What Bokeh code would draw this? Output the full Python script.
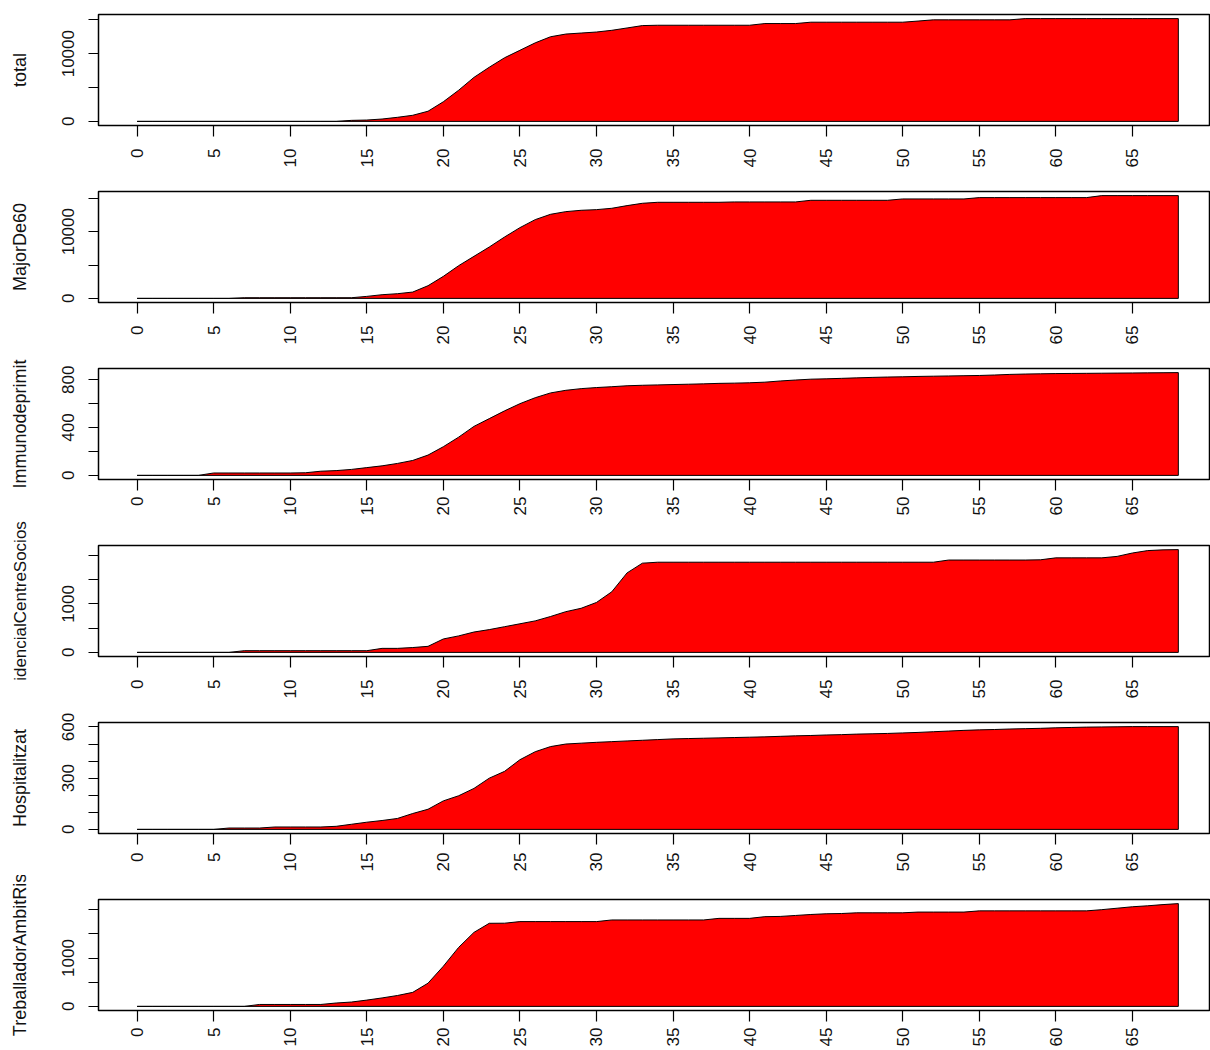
import math
from bokeh.plotting import figure
from bokeh.layouts import column
from bokeh.models import Range1d, FixedTicker, ColumnDataSource
from bokeh.embed import file_html
from bokeh.resources import INLINE

days = list(range(69))

total = [0, 0, 0, 0, 0, 0, 0, 0, 0, 0,
         0, 0, 0, 0, 150, 200, 350, 600, 900, 1500,
         2900, 4600, 6500, 8000, 9400, 10500, 11600, 12500, 12900, 13050,
         13200, 13450, 13800, 14150, 14200, 14200, 14200, 14200, 14200, 14200,
         14200, 14450, 14450, 14450, 14650, 14650, 14650, 14650, 14650, 14650,
         14650, 14820, 15000, 15000, 15000, 15000, 15000, 15000, 15180, 15180,
         15180, 15180, 15180, 15180, 15180, 15180, 15180, 15180, 15180]

major_de_60 = [0, 0, 0, 0, 0, 0, 0, 100, 100, 100,
               100, 100, 100, 100, 100, 300, 550, 700, 950, 1900,
               3300, 4900, 6300, 7700, 9200, 10600, 11800, 12600, 13000, 13200,
               13300, 13500, 13900, 14250, 14400, 14400, 14400, 14400, 14400, 14450,
               14450, 14450, 14450, 14450, 14700, 14700, 14700, 14700, 14700, 14700,
               14900, 14900, 14900, 14900, 14900, 15100, 15100, 15100, 15100, 15100,
               15100, 15100, 15100, 15400, 15400, 15400, 15400, 15400, 15400]

immunodeprimit = [0, 0, 0, 0, 0, 20, 20, 20, 20, 20,
                  20, 22, 35, 40, 50, 65, 80, 100, 125, 170,
                  240, 320, 410, 475, 540, 600, 650, 690, 712, 726,
                  735, 742, 750, 754, 757, 760, 763, 766, 770, 772,
                  775, 780, 790, 798, 805, 808, 812, 816, 820, 823,
                  825, 828, 830, 832, 834, 836, 840, 845, 848, 850,
                  852, 853, 854, 855, 856, 857, 858, 859, 860]

residencial = [0, 0, 0, 0, 0, 0, 0, 35, 35, 35,
               35, 35, 35, 35, 35, 35, 83, 83, 100, 125,
               277, 340, 420, 470, 530, 590, 650, 740, 840, 910,
               1030, 1250, 1640, 1840, 1860, 1860, 1860, 1860, 1860, 1860,
               1860, 1860, 1860, 1860, 1860, 1860, 1860, 1860, 1860, 1860,
               1860, 1860, 1860, 1905, 1905, 1905, 1905, 1905, 1905, 1910,
               1950, 1950, 1950, 1950, 1980, 2050, 2100, 2115, 2120]

hospitalitzat = [0, 0, 0, 0, 0, 0, 8, 8, 8, 14,
                 14, 14, 14, 18, 30, 42, 52, 64, 93, 118,
                 167, 197, 240, 300, 340, 408, 455, 485, 500, 505,
                 510, 514, 518, 522, 526, 530, 532, 534, 536, 538,
                 540, 542, 545, 548, 550, 553, 555, 558, 560, 562,
                 565, 568, 572, 576, 580, 583, 585, 588, 590, 592,
                 595, 597, 599, 600, 601, 602, 602, 602, 602]

treballador = [0, 0, 0, 0, 0, 0, 0, 0, 40, 40,
               40, 40, 40, 70, 90, 130, 175, 225, 290, 480,
               830, 1220, 1530, 1718, 1720, 1753, 1753, 1753, 1753, 1753,
               1753, 1787, 1787, 1787, 1787, 1787, 1787, 1787, 1820, 1820,
               1820, 1855, 1860, 1880, 1900, 1915, 1920, 1935, 1935, 1935,
               1935, 1950, 1950, 1950, 1950, 1975, 1975, 1975, 1975, 1975,
               1975, 1975, 1975, 2000, 2030, 2060, 2080, 2105, 2125]

titles = ["total", "MajorDe60", "Immunodeprimit", "idencialCentreSocios",
          "Hospitalitzat", "TreballadorAmbitRis"]
values = [total, major_de_60, immunodeprimit, residencial, hospitalitzat, treballador]
y_ticks = [[0, 5000, 10000, 15000], [0, 5000, 10000, 15000], [0, 200, 400, 600, 800],
           [0, 500, 1000, 1500, 2000], [0, 100, 200, 300, 400, 500, 600],
           [0, 500, 1000, 1500, 2000]]
y_labelled = [[0, 10000], [0, 10000], [0, 400, 800], [0, 1000], [0, 300, 600], [0, 1000]]
x_ticks = list(range(0, 66, 5))

# layout per panel: (border top, border bottom, x label standoff, title font px)
# frames stay 177 px apart; borders are traded so that every y title fits its canvas
panel_layout = [(14, 52, 12, 18), (14, 52, 12, 18), (14, 40, 6, 18),
                (26, 52, 12, 17), (14, 42, 8, 18), (24, 0, 6, 18)]

FONT = "Liberation Sans"
TXT = "#111111"
FRAME_H = 111
figs = []
for name, vals, yticks, ylab, (bt, bb, xstand, tfs) in zip(titles, values, y_ticks,
                                                           y_labelled, panel_layout):
    ymax = max(vals)
    p = figure(frame_width=1112, frame_height=FRAME_H,
               x_range=Range1d(-2.52, 70.1),
               y_range=Range1d(-0.04 * ymax, 1.04 * ymax),
               output_backend="svg", toolbar_location=None,
               min_border_left=98, min_border_right=0,
               min_border_top=bt, min_border_bottom=bb)
    p.grid.visible = False
    p.outline_line_color = "black"
    p.outline_line_width = 1.5
    p.background_fill_color = "white"
    p.border_fill_color = "white"

    xs = days + [days[-1], days[0]]
    ys = vals + [0, 0]
    src = ColumnDataSource(dict(x=xs, y=ys))
    p.patch("x", "y", source=src, fill_color="#FF0000", line_color="black", line_width=1)

    xa = p.xaxis[0]
    xa.ticker = FixedTicker(ticks=x_ticks)
    xa.axis_line_color = None
    xa.major_tick_line_color = "black"
    xa.major_tick_line_width = 1.2
    xa.major_tick_out = 11
    xa.major_tick_in = 0
    xa.minor_tick_line_color = None
    xa.major_label_orientation = math.pi / 2
    xa.major_label_standoff = xstand
    xa.major_label_text_font = FONT
    xa.major_label_text_font_size = "17px"
    xa.major_label_text_color = TXT

    ya = p.yaxis[0]
    ya.ticker = FixedTicker(ticks=yticks)
    ya.major_label_overrides = {float(t): (str(t) if t in ylab else "") for t in yticks}
    ya.axis_line_color = None
    ya.major_tick_line_color = "black"
    ya.major_tick_line_width = 1.2
    ya.major_tick_out = 10
    ya.major_tick_in = 0
    ya.minor_tick_line_color = None
    ya.major_label_orientation = "parallel"
    ya.major_label_standoff = 14
    ya.major_label_text_font = FONT
    ya.major_label_text_font_size = "17px"
    ya.major_label_text_color = TXT
    ya.axis_label = name
    ya.axis_label_text_font = FONT
    ya.axis_label_text_font_size = f"{tfs}px"
    ya.axis_label_text_font_style = "normal"
    ya.axis_label_text_color = TXT
    ya.axis_label_standoff = 30
    figs.append(p)

layout = column(*figs, spacing=0)
open("out.html", "w").write(file_html(layout, INLINE))
